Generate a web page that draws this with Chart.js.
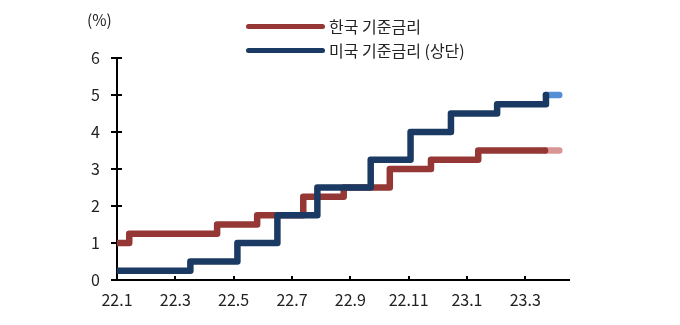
<!DOCTYPE html>
<html>
<head>
<meta charset="utf-8">
<script src="https://cdn.jsdelivr.net/npm/chart.js@4.4.1/dist/chart.umd.min.js"></script>
<style>
  body { margin: 0; background: #fff; }
  #wrap { position: relative; width: 680px; height: 325px; font-family: "Noto Sans CJK KR", "Noto Sans", sans-serif; color: #222; }
  canvas { position: absolute; left: 0; top: 0; }
  .unit { position: absolute; left: 87px; top: 9px; font-size: 15.5px; line-height: 20px; }
  .leg { position: absolute; left: 246px; height: 20px; display: flex; align-items: center; font-size: 16px; line-height: 20px; white-space: nowrap; }
  .sw { display: inline-block; width: 79px; height: 5px; border-radius: 3px; margin-right: 4px; }
</style>
</head>
<body>
<div id="wrap">
  <canvas id="c" width="680" height="325"></canvas>
  <div class="unit">(%)</div>
  <div class="leg" style="top:16px"><span class="sw" id="s0"></span><span id="l0"></span></div>
  <div class="leg" style="top:40px"><span class="sw" id="s1"></span><span id="l1"></span></div>
</div>
<script>
// ---- data ----
const seriesNames = ['한국 기준금리', '미국 기준금리 (상단)'];
const tickLabels = ['22.1', '22.3', '22.5', '22.7', '22.9', '22.11', '23.1', '23.3'];
const tickMonths = [0, 2, 4, 6, 8, 10, 12, 14];

const krDates = ['2022-01-01', '2022-01-14', '2022-04-14', '2022-05-26', '2022-07-13', '2022-08-25', '2022-10-12', '2022-11-24', '2023-01-13', '2023-03-22'];
const krRates = [1.0, 1.25, 1.5, 1.75, 2.25, 2.5, 3.0, 3.25, 3.5, 3.5];
const krRecentDates = ['2023-03-22', '2023-04-06'];
const krRecentRates = [3.5, 3.5];

const usDates = ['2022-01-01', '2022-03-17', '2022-05-05', '2022-06-16', '2022-07-28', '2022-09-22', '2022-11-03', '2022-12-15', '2023-02-02', '2023-03-23'];
const usRates = [0.25, 0.5, 1.0, 1.75, 2.5, 3.25, 4.0, 4.5, 4.75, 5.0];
const usRecentDates = ['2023-03-23', '2023-04-06'];
const usRecentRates = [5.0, 5.0];

const colors = { kr: '#953735', krLight: '#d99694', us: '#1b3a63', usLight: '#558ed5' };

// ---- helpers ----
function monthPos(s) {
  const [y, m, d] = s.split('-').map(Number);
  const dim = new Date(y, m, 0).getDate();
  return (y - 2022) * 12 + (m - 1) + (d - 1) / dim;
}
function pts(dates, vals) { return dates.map((d, i) => ({ x: monthPos(d), y: vals[i] })); }

document.getElementById('l0').textContent = seriesNames[0];
document.getElementById('l1').textContent = seriesNames[1];
document.getElementById('s0').style.background = colors.kr;
document.getElementById('s1').style.background = colors.us;

const FONT = '"Noto Sans CJK KR", "Noto Sans", sans-serif';

const axisTicks = {
  id: 'axisTicks',
  beforeDatasetsDraw(chart) {
    const { ctx, scales: { x, y } } = chart;
    ctx.save();
    ctx.strokeStyle = '#000';
    ctx.lineWidth = 2;
    ctx.beginPath();
    y.ticks.forEach(t => {
      const py = Math.round(y.getPixelForValue(t.value));
      ctx.moveTo(y.right - 6, py);
      ctx.lineTo(y.right + 5, py);
    });
    x.ticks.forEach(t => {
      const px = Math.round(x.getPixelForValue(t.value));
      ctx.moveTo(px, x.top - 4);
      ctx.lineTo(px, x.top);
    });
    ctx.stroke();
    ctx.restore();
  }
};

const lineStyle = { pointRadius: 0, borderWidth: 6.5, stepped: 'before', borderCapStyle: 'round', borderJoinStyle: 'round', fill: false, tension: 0 };

new Chart(document.getElementById('c'), {
  type: 'line',
  data: {
    datasets: [
      Object.assign({ label: seriesNames[1], data: pts(usDates, usRates), borderColor: colors.us, order: 0 }, lineStyle),
      Object.assign({ label: seriesNames[1] + ' recent', data: pts(usRecentDates, usRecentRates), borderColor: colors.usLight, order: 1 }, lineStyle),
      Object.assign({ label: seriesNames[0], data: pts(krDates, krRates), borderColor: colors.kr, order: 2 }, lineStyle),
      Object.assign({ label: seriesNames[0] + ' recent', data: pts(krRecentDates, krRecentRates), borderColor: colors.krLight, order: 3 }, lineStyle)
    ]
  },
  options: {
    responsive: false,
    animation: false,
    events: [],
    layout: { padding: { top: 58, right: 111, left: 0, bottom: 0 } },
    plugins: { legend: { display: false }, tooltip: { enabled: false } },
    scales: {
      x: {
        type: 'linear', min: 0, max: 15.5,
        afterBuildTicks: s => { s.ticks = tickMonths.map(v => ({ value: v })); },
        afterFit: s => { s.height = 45; },
        grid: { display: false, drawTicks: false },
        border: { display: true, color: '#000', width: 2 },
        ticks: { padding: 10, autoSkip: false, maxRotation: 0, color: '#222', font: { family: FONT, size: 16 },
          callback: (v, i) => tickLabels[i] }
      },
      y: {
        min: 0, max: 6,
        afterFit: s => { s.width = 117; },
        grid: { display: false, drawTicks: false },
        border: { display: true, color: '#000', width: 2 },
        ticks: { stepSize: 1, padding: 17, color: '#222', font: { family: FONT, size: 16 } }
      }
    }
  },
  plugins: [axisTicks]
});
</script>
</body>
</html>
